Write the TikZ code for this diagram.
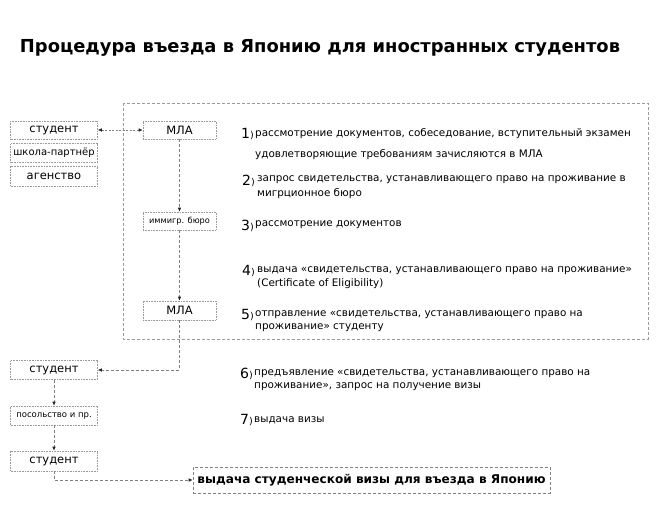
\documentclass[tikz,border=0pt]{standalone}
\usepackage{fontspec}
\setmainfont{DejaVu Sans}
\usetikzlibrary{arrows.meta}
\definecolor{lgray}{HTML}{9A9A9A}
\definecolor{dgray}{HTML}{808080}
\tikzset{
  box/.style={draw=lgray, densely dotted, line width=0.6pt, inner sep=0pt, minimum height=18pt},
  lbox/.style={box, minimum width=87pt},
  mbox/.style={box, minimum width=73pt},
  conn/.style={draw=dgray, dashed, dash pattern=on 3pt off 2pt, line width=0.6pt, -{Latex[length=4pt,width=3.5pt,color=black!85]}},
  biconn/.style={draw=dgray, dash pattern=on 2pt off 1.5pt, line width=0.6pt, {Latex[length=4pt,width=3.5pt,color=black!85]}-{Latex[length=4pt,width=3.5pt,color=black!85]}},
  boxtxt/.style={font=\fontsize{11.5}{13}\selectfont},
  smalltxt/.style={font=\fontsize{8.2}{10}\selectfont},
  num/.style={anchor=east, inner sep=0pt, font=\fontsize{14}{16}\selectfont},
  item/.style={anchor=west, inner sep=0pt, font=\fontsize{10.4}{12}\selectfont},
}
\newcommand{\nm}[1]{#1{\fontsize{9.5}{11}\selectfont)}}
\begin{document}
\begin{tikzpicture}[x=1pt,y=-1pt]
\useasboundingbox (0,0) rectangle (659,523);
% title
\node[font=\bfseries\fontsize{17.9}{20}\selectfont, inner sep=0pt] (title) at (320,48) {Процедура въезда в Японию для иностранных студентов};
% big dashed area
\draw[draw=lgray, dash pattern=on 3pt off 2pt, line width=0.6pt] (123,103) rectangle (648,339);
% left boxes
\node[lbox, boxtxt] (st1) at (54,130) {студент};
\node[lbox, boxtxt, minimum height=19pt, font=\fontsize{10}{12}\selectfont] (school) at (54,153) {школа-партнёр};
\node[lbox, boxtxt, minimum height=20pt] (agency) at (54,176) {агенство};
\node[mbox, boxtxt] (mla1) at (179.5,130) {МЛА};
\node[mbox, smalltxt] (imm) at (179.5,221) {иммигр. бюро};
\node[mbox, boxtxt, minimum height=19pt] (mla2) at (179.5,310.5) {МЛА};
\node[lbox, boxtxt, minimum height=19pt] (st2) at (54,370) {студент};
\node[lbox, font=\fontsize{8.5}{10}\selectfont, minimum height=19pt] (emb) at (54,415.5) {посольство и пр.};
\node[lbox, boxtxt, minimum height=20pt] (st3) at (54,461) {студент};
\node[draw=dgray, dash pattern=on 3pt off 2pt, line width=0.6pt, minimum width=357pt, minimum height=26pt, inner sep=0pt, font=\bfseries\fontsize{12.1}{14}\selectfont] (final) at (371.5,480) {выдача студенческой визы для въезда в Японию};
% connectors
\draw[biconn] (st1.east) -- (mla1.west);
\draw[conn] (mla1.south) -- (imm.north);
\draw[conn] (imm.south) -- (mla2.north);
\draw[conn] (mla2.south) |- (st2.east);
\draw[conn] (st2.south) -- (emb.north);
\draw[conn] (emb.south) -- (st3.north);
\draw[conn] (st3.south) |- (final.west);
% numbered items
\node[num] (n1) at (254,134) {\nm{1}};
\node[item] (t1a) at (255,134) {рассмотрение документов, собеседование, вступительный экзамен};
\node[item] (t1b) at (255,155) {удовлетворяющие требованиям зачисляются в МЛА};
\node[num] (n2) at (255,181) {\nm{2}};
\node[item] (t2a) at (257,180) {запрос свидетельства, устанавливающего право на проживание в};
\node[item] (t2b) at (257,194) {мигрционное бюро};
\node[num] (n3) at (254,226) {\nm{3}};
\node[item] (t3a) at (255,225) {рассмотрение документов};
\node[num] (n4) at (255,271) {\nm{4}};
\node[item] (t4a) at (257,271) {выдача «свидетельства, устанавливающего право на проживание»};
\node[item] (t4b) at (257,284) {(Certificate of Eligibility)};
\node[num] (n5) at (254,315) {\nm{5}};
\node[item] (t5a) at (255,315) {отправление «свидетельства, устанавливающего право на};
\node[item] (t5b) at (255,328) {проживание» студенту};
\node[num] (n6) at (253,374) {\nm{6}};
\node[item] (t6a) at (254,374) {предъявление «свидетельства, устанавливающего право на};
\node[item] (t6b) at (254,387) {проживание», запрос на получение визы};
\node[num] (n7) at (253,420) {\nm{7}};
\node[item] (t7a) at (254,420) {выдача визы};
\end{tikzpicture}
\end{document}
